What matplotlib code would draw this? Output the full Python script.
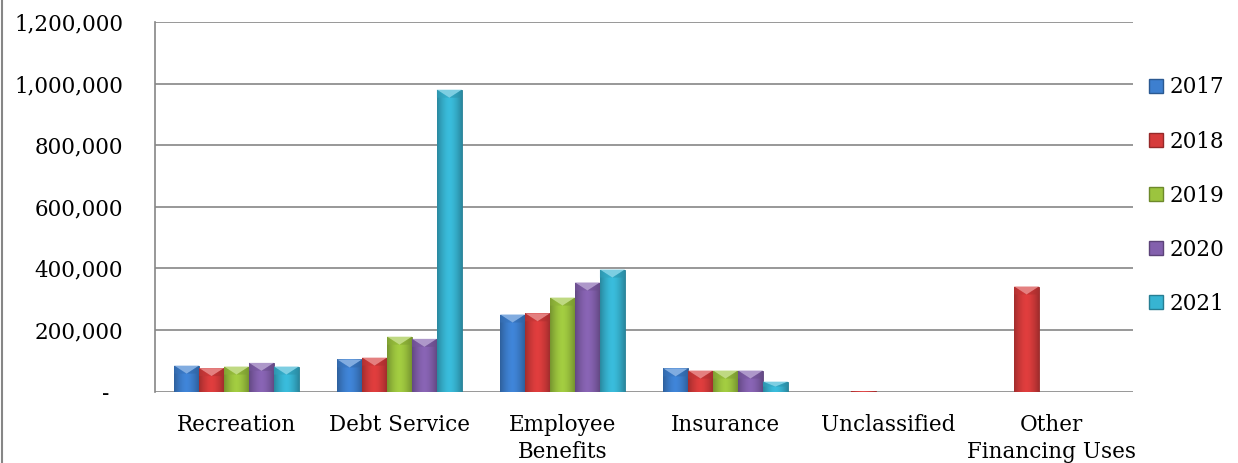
import numpy as np
import matplotlib.pyplot as plt
from matplotlib.patches import Polygon
from matplotlib.lines import Line2D
from matplotlib.colors import to_rgb
from matplotlib.ticker import FuncFormatter

# expenditure by function, one series per fiscal year
categories = ['Recreation', 'Debt Service', 'Employee\nBenefits', 'Insurance',
              'Unclassified', 'Other\nFinancing Uses']
years = ['2017', '2018', '2019', '2020', '2021']
v2017 = [84000, 104000, 250000, 75000, 0, 0]
v2018 = [76000, 110000, 254000, 68000, 1500, 341000]
v2019 = [81000, 178000, 305000, 68000, 0, 0]
v2020 = [93000, 171000, 354000, 68000, 0, 0]
v2021 = [81000, 980000, 396000, 32000, 0, 0]
series = [v2017, v2018, v2019, v2020, v2021]
colors = ['#3d7fcf', '#d63b3b', '#9cc43e', '#8360ad', '#37b4d2']

plt.rcParams['font.family'] = 'DejaVu Serif'

fig = plt.figure(figsize=(12.38, 4.63), dpi=100)
ax = fig.add_axes([0.1252, 0.1544, 0.79, 0.7981])

x = np.arange(len(categories))
w = 0.153
bevel = 26000  # depth of the lighter wedge on the bar tops


def shaded_bar(ax, xc, h, col):
    '''draw one bar with darker sides, a lighter middle and a bevelled top'''
    if h <= 0:
        return
    rgb = np.array(to_rgb(col))
    x0, x1 = xc - w/2, xc + w/2
    rect = ax.bar(xc, h, w, color=col, edgecolor=rgb*0.7, linewidth=0.6, zorder=3)[0]
    t = np.linspace(-1, 1, 64)
    shade = 1.0 - 0.28*np.abs(t)**1.6
    grad = np.clip(rgb[None, None, :]*shade[None, :, None]*1.05, 0, 1)
    im = ax.imshow(grad, extent=[x0, x1, 0, h], aspect='auto', zorder=3.1,
                   interpolation='bilinear')
    im.set_clip_path(rect)
    d = min(bevel, h*0.5)
    light = np.clip(rgb + (1 - rgb)*0.35, 0, 1)
    ax.add_patch(Polygon([[x0, h], [x1, h], [xc, h - d]], closed=True,
                         facecolor=light, edgecolor='none', zorder=3.2))
    ax.add_patch(Polygon([[x0, h], [xc, h - d], [x0, h - d]], closed=True,
                         facecolor=rgb*0.9, edgecolor='none', alpha=0.5, zorder=3.2))
    ax.add_patch(Polygon([[x1, h], [xc, h - d], [x1, h - d]], closed=True,
                         facecolor=rgb*0.8, edgecolor='none', alpha=0.5, zorder=3.2))


for i, vals in enumerate(series):
    offs = (i - 2)*w
    for j, v in enumerate(vals):
        shaded_bar(ax, x[j] + offs, v, colors[i])

ax.set_xlim(-0.5, len(categories) - 0.5)
ax.set_ylim(0, 1200000)
ax.set_yticks(np.arange(0, 1200001, 200000))
ax.yaxis.set_major_formatter(FuncFormatter(lambda v, p: '-  ' if v == 0 else f'{v:,.0f}'))
ax.set_xticks(x)
ax.set_xticklabels(categories, linespacing=1.3)
ax.tick_params(axis='y', length=0, pad=23, labelsize=15.5)
ax.tick_params(axis='x', length=0, pad=16, labelsize=15.5)
ax.grid(axis='y', color='#868686', linewidth=1.2, zorder=0)
ax.set_axisbelow(True)
for s in ['top', 'right', 'bottom']:
    ax.spines[s].set_visible(False)
ax.spines['left'].set_color('#868686')
ax.spines['left'].set_linewidth(1.2)

handles = [plt.Rectangle((0, 0), 1, 1, facecolor=c, edgecolor=np.array(to_rgb(c))*0.7)
           for c in colors]
ax.legend(handles, years, loc='upper left', bbox_to_anchor=(1.008, 0.876),
          frameon=False, fontsize=15.5, handlelength=0.62, handleheight=0.62,
          handletextpad=0.3, labelspacing=1.49, borderaxespad=0)

# frame line down the left edge of the chart
fig.add_artist(Line2D([0.0015, 0.0015], [0, 1], color='#868686', linewidth=1.5))

plt.savefig('out.png', dpi=100)
